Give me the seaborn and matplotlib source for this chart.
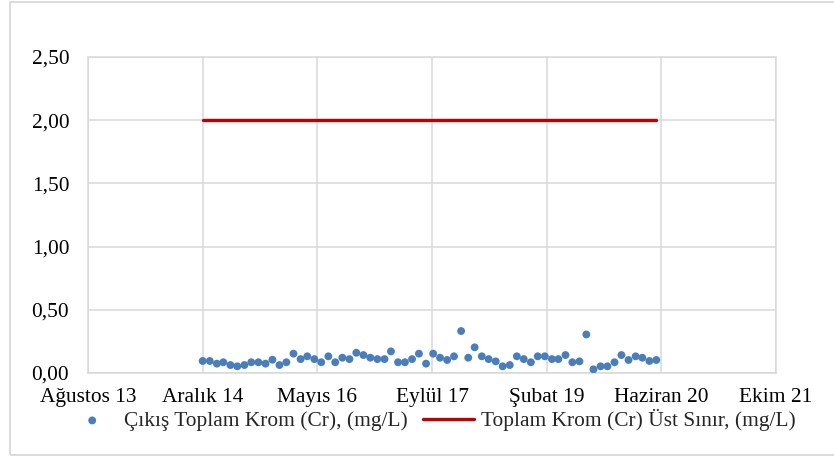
import numpy as np
import pandas as pd
import matplotlib
matplotlib.use("Agg")
import matplotlib.pyplot as plt
import matplotlib.dates as mdates
from matplotlib.patches import Rectangle
import seaborn as sns

# ---- data ----
first_month = "2014-12-28"
n_months = 66
krom_values = [
    0.095, 0.095, 0.074, 0.085, 0.063, 0.053, 0.063, 0.085, 0.085, 0.074,
    0.105, 0.063, 0.085, 0.153, 0.110, 0.132, 0.110, 0.085, 0.132, 0.085,
    0.121, 0.110, 0.160, 0.142, 0.121, 0.110, 0.110, 0.171, 0.085, 0.085,
    0.110, 0.153, 0.074, 0.153, 0.121, 0.103, 0.132, 0.332, 0.121, 0.203,
    0.132, 0.110, 0.092, 0.053, 0.063, 0.132, 0.110, 0.085, 0.132, 0.132,
    0.110, 0.110, 0.142, 0.085, 0.092, 0.305, 0.029, 0.053, 0.053, 0.085,
    0.142, 0.103, 0.132, 0.121, 0.095, 0.103,
]
limit_value = 2.00
series_names = ["Çıkış Toplam Krom (Cr), (mg/L)", "Toplam Krom (Cr) Üst Sınır, (mg/L)"]
x_tick_dates = ["2013-08-15", "2014-12-28", "2016-05-11", "2017-09-23",
                "2019-02-05", "2020-06-19", "2021-11-01"]
x_tick_labels = ["Ağustos 13", "Aralık 14", "Mayıs 16", "Eylül 17",
                 "Şubat 19", "Haziran 20", "Ekim 21"]
y_ticks = [0.0, 0.5, 1.0, 1.5, 2.0, 2.5]
y_tick_labels = ["0,00", "0,50", "1,00", "1,50", "2,00", "2,50"]

dates = pd.date_range(first_month, periods=n_months, freq=pd.DateOffset(months=1))
df = pd.DataFrame({"date": dates, "krom": krom_values})
df_lim = pd.DataFrame({"date": [dates[0], dates[-1]], "lim": [limit_value, limit_value]})

# ---- style ----
sns.set_style("white")
plt.rcParams["font.family"] = ["Liberation Serif", "DejaVu Serif"]
FS = 15.4
plt.rcParams["font.size"] = FS

W, H = 834, 459
fig = plt.figure(figsize=(W / 100, H / 100), dpi=100)
ax = fig.add_axes([88 / W, (H - 373) / H, (776 - 88) / W, (373 - 57) / H])

grid_c = "#d9d9d9"
sns.scatterplot(data=df, x="date", y="krom", ax=ax, color="#4a7ebb", s=32,
                edgecolor="none", label=series_names[0], zorder=3)
sns.lineplot(data=df_lim, x="date", y="lim", ax=ax, color="#c00000", lw=2.4,
             label=series_names[1], zorder=3)

tick_dt = pd.to_datetime(x_tick_dates)
ax.set_xlim(tick_dt[0], tick_dt[-1])
ax.set_xticks(tick_dt)
ax.set_xticklabels(x_tick_labels)
ax.set_ylim(0, 2.5)
ax.set_yticks(y_ticks)
ax.set_yticklabels(y_tick_labels)
ax.set_xlabel("")
ax.set_ylabel("")
ax.grid(True, color=grid_c, lw=1.1)
ax.set_axisbelow(True)
for sp in ax.spines.values():
    sp.set_color(grid_c)
    sp.set_linewidth(1.1)
ax.tick_params(length=0, colors="black", labelsize=FS)
ax.tick_params(axis="x", pad=11)
ax.tick_params(axis="y", pad=13.5)

h, l = ax.get_legend_handles_labels()
ax.legend(h, l, loc="center", bbox_to_anchor=(431 / W, 1 - 420 / H),
          bbox_transform=fig.transFigure, ncol=2, frameon=False,
          fontsize=FS, handlelength=2.4, columnspacing=0.7, handletextpad=0.3,
          borderpad=0, markerscale=1.0)

fig.patches.append(Rectangle((10 / W, 1 - 455 / H), (840 - 10) / W, (455 - 2) / H,
                             transform=fig.transFigure, fill=False,
                             edgecolor=grid_c, lw=1.3, zorder=0))

fig.savefig("out.png", dpi=100)
